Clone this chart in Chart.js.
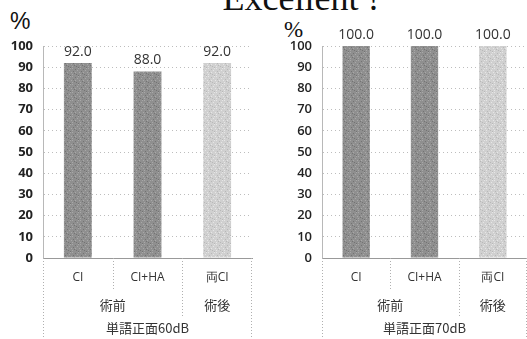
<!DOCTYPE html>
<html>
<head>
<meta charset="utf-8">
<script src="https://cdn.jsdelivr.net/npm/chart.js@4.4.1/dist/chart.umd.min.js"></script>
<style>
  body { margin: 0; width: 527px; height: 339px; background: #fff; position: relative; overflow: hidden; }
  .title { position: absolute; left: 301px; top: -23px; transform: translateX(-50%); white-space: nowrap; font: 36px "Liberation Serif", "DejaVu Serif", serif; color: #111; }
  .pct { position: absolute; color: #111; }
  canvas { position: absolute; }
</style>
</head>
<body>
<div class="title">Excellent !</div>
<div class="pct" style="left:10px; top:8px; font: 23px 'Liberation Sans', sans-serif;">%</div>
<div class="pct" style="left:284px; top:17px; font: 23px 'Liberation Serif', serif;">%</div>
<canvas id="chart60" style="left:0; top:20px; width:262px; height:319px;"></canvas>
<canvas id="chart70" style="left:262px; top:20px; width:265px; height:319px;"></canvas>
<script>
const categories = ['CI', 'CI+HA', '両CI'];
const phases = [['術前', 2], ['術後', 1]];
const scores60 = [92.0, 88.0, 92.0];
const scores70 = [100.0, 100.0, 100.0];
const yTicks = [0, 10, 20, 30, 40, 50, 60, 70, 80, 90, 100];

// speckled fill like a halftone print
function speckle(base, dark, light) {
    const c = document.createElement('canvas');
    c.width = 8; c.height = 8;
    const g = c.getContext('2d');
    g.fillStyle = base; g.fillRect(0, 0, 8, 8);
    const dots = [[0,0],[3,1],[6,0],[1,3],[5,2],[2,5],[7,4],[4,6],[0,6],[6,7],[3,4]];
    dots.forEach(([x, y], i) => {
        g.fillStyle = i % 2 ? dark : light;
        g.fillRect(x, y, 1, 1);
    });
    return g.createPattern(c, 'repeat');
}

const darkFill = speckle('#8f8f8f', '#737373', '#a8a8a8');
const lightFill = speckle('#d0d0d0', '#b8b8b8', '#e6e6e6');

const groupLabels = {
    id: 'groupLabels',
    afterDraw(chart, args, opts) {
        const ctx = chart.ctx;
        const x = chart.scales.x;
        const area = chart.chartArea;
        const step = (area.right - area.left) / categories.length;
        ctx.save();
        ctx.strokeStyle = '#b0b0b0';
        ctx.lineWidth = 1;
        ctx.setLineDash([1, 2]);
        const vline = (px, y2) => {
            ctx.beginPath(); ctx.moveTo(Math.round(px) + 0.5, area.bottom); ctx.lineTo(Math.round(px) + 0.5, y2); ctx.stroke();
        };
        vline(area.left, chart.height);
        vline(area.right - 1, chart.height);
        // separators between categories / phases
        let idx = 0;
        phases.forEach(([name, span], p) => {
            for (let k = 1; k < span; k++) vline(area.left + step * (idx + k), area.bottom + 33);
            if (p < phases.length - 1) vline(area.left + step * (idx + span), area.bottom + 58);
            idx += span;
        });
        ctx.setLineDash([]);
        ctx.fillStyle = '#333';
        ctx.textAlign = 'center';
        ctx.textBaseline = 'middle';
        ctx.font = '13px "Noto Sans CJK JP"';
        idx = 0;
        phases.forEach(([name, span]) => {
            const cx = (x.getPixelForValue(idx) + x.getPixelForValue(idx + span - 1)) / 2;
            ctx.fillText(name, cx, area.bottom + 47);
            idx += span;
        });
        ctx.fillText(opts.caption, (area.left + area.right) / 2, area.bottom + 70);
        ctx.restore();
    }
};

const valueLabels = {
    id: 'valueLabels',
    afterDatasetsDraw(chart) {
        const ctx = chart.ctx;
        const meta = chart.getDatasetMeta(0);
        ctx.save();
        ctx.fillStyle = '#333';
        ctx.font = '14px "Open Sans", sans-serif';
        ctx.textAlign = 'center';
        ctx.textBaseline = 'bottom';
        meta.data.forEach((bar, i) => {
            ctx.fillText(chart.data.datasets[0].data[i].toFixed(1), bar.x, bar.y - 4);
        });
        ctx.restore();
    }
};

function makeChart(id, values, caption, axisWidth, padRight, tickFont) {
    return new Chart(document.getElementById(id), {
        type: 'bar',
        data: {
            labels: categories,
            datasets: [{
                data: values,
                backgroundColor: [darkFill, darkFill, lightFill],
                barPercentage: 0.4,
                categoryPercentage: 1.0
            }]
        },
        options: {
            responsive: false,
            animation: false,
            layout: { padding: { top: 26, right: padRight, left: 0, bottom: 0 } },
            plugins: { legend: { display: false }, tooltip: { enabled: false }, groupLabels: { caption } },
            scales: {
                y: {
                    min: 0, max: 100,
                    afterBuildTicks: s => { s.ticks = yTicks.map(v => ({ value: v })); },
                    afterFit: s => { s.width = axisWidth; },
                    border: { display: true, color: '#b8b8b8', dash: [1, 3] },
                    grid: { color: '#bdbdbd', drawTicks: false },
                    ticks: { color: '#222', font: tickFont, padding: 10 }
                },
                x: {
                    afterFit: s => { s.height = 81; },
                    border: { display: true, color: '#999', dash: [1, 1] },
                    grid: { display: false },
                    ticks: { color: '#333', font: { family: '"Open Sans", sans-serif', size: 12 }, padding: 4 }
                }
            }
        },
        plugins: [valueLabels, groupLabels]
    });
}

document.getElementById('chart60').width = 262; document.getElementById('chart60').height = 319;
document.getElementById('chart70').width = 265; document.getElementById('chart70').height = 319;
makeChart('chart60', scores60, '単語正面60dB', 43, 10, { family: '"Open Sans", sans-serif', size: 13, weight: 'bold' });
makeChart('chart70', scores70, '単語正面70dB', 60, 0, { family: '"Open Sans", sans-serif', size: 13, weight: '600' });
</script>
</body>
</html>
